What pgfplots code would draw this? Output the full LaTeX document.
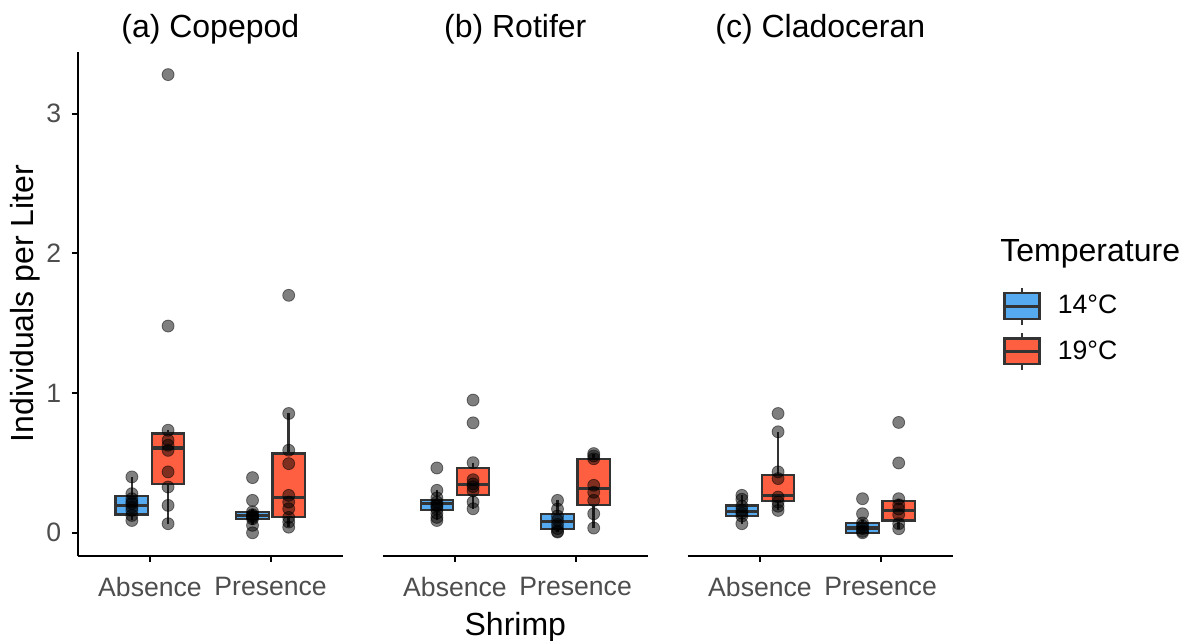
\documentclass[border=0pt]{standalone}
\usepackage{fontspec}
\setmainfont{Liberation Sans}
\usepackage{pgfplots}
\pgfplotsset{compat=1.18}
\usepgfplotslibrary{statistics}
\definecolor{c14}{RGB}{86,170,240}
\definecolor{c19}{RGB}{255,95,65}
\definecolor{boxgray}{RGB}{51,51,51}
\definecolor{tickgray}{RGB}{77,77,77}
\newcommand{\tickfont}{\fontsize{13.3}{16}\selectfont}
\newcommand{\labfont}{\fontsize{16}{19}\selectfont}
% draw position, lower whisker, lower quartile, median, upper quartile, upper whisker, colour
\newcommand{\bx}[7]{\addplot[boxplot prepared={draw direction=y, draw position=#1, lower whisker=#2, lower quartile=#3, median=#4, upper quartile=#5, upper whisker=#6, box extend=0.27, whisker extend=0, every median/.style={line width=1.7pt}, every whisker/.style={line width=1.3pt}, every box/.style={line width=1.1pt}}, draw=boxgray, fill=#7, line width=1.1pt, forget plot] coordinates {};}
\pgfplotsset{
  panel/.style={
    scale only axis, width=132.7pt, height=252pt,
    xmin=0.4, xmax=2.6, ymin=-0.164, ymax=3.444,
    xtick={1,2}, xticklabels={Absence,Presence},
    axis x line*=bottom,
    axis line style={line width=1pt, black},
    tick align=outside, major tick length=3pt,
    tick style={line width=1pt, black},
    xticklabel style={font=\tickfont, text=tickgray, anchor=center, yshift=-12.6pt},
    yticklabel style={font=\tickfont, text=tickgray, anchor=east, inner sep=0pt, xshift=-5pt},
    /pgf/number format/assume math mode=true,
    title style={font=\labfont, at={(0.5,1)}, anchor=center, yshift=5pt},
    xlabel style={font=\labfont},
    ylabel style={font=\labfont},
    clip=false,
  },
  pts/.style={only marks, mark=*, mark size=3pt, mark options={fill=black, draw=black, opacity=0.5, line width=0.4pt}, forget plot},
}
\begin{document}
\begin{tikzpicture}
\path[use as bounding box] (0pt,0pt) rectangle (590pt,-320.5pt);

% (a) Copepod
\begin{axis}[panel, at={(38.8pt,-277.85pt)}, anchor=south west,
  axis y line*=left, ytick={0,1,2,3},
  title={(a) Copepod},
  ylabel={Individuals per Liter},
  ylabel style={at={(axis description cs:-0.198,0.5)}, anchor=center}]
\bx{0.85}{0.088}{0.131}{0.196}{0.261}{0.40}{c14}
\bx{1.15}{0.065}{0.352}{0.608}{0.711}{0.734}{c19}
\bx{1.85}{0.053}{0.096}{0.124}{0.148}{0.17}{c14}
\bx{2.15}{0.04}{0.113}{0.251}{0.567}{0.854}{c19}
\addplot[pts] coordinates {(0.85,0.40)(0.85,0.28)(0.85,0.244)(0.85,0.22)(0.85,0.208)(0.85,0.184)(0.85,0.16)(0.85,0.124)(0.85,0.088)};
\addplot[pts] coordinates {(1.15,3.28)(1.15,1.48)(1.15,0.734)(1.15,0.663)(1.15,0.627)(1.15,0.59)(1.15,0.436)(1.15,0.328)(1.15,0.196)(1.15,0.065)};
\addplot[pts] coordinates {(1.85,0.395)(1.85,0.232)(1.85,0.15)(1.85,0.13)(1.85,0.12)(1.85,0.11)(1.85,0.10)(1.85,0.053)(1.85,0.0)};
\addplot[pts] coordinates {(2.15,1.70)(2.15,0.854)(2.15,0.591)(2.15,0.495)(2.15,0.268)(2.15,0.22)(2.15,0.172)(2.15,0.11)(2.15,0.077)(2.15,0.04)};
\end{axis}

% (b) Rotifer
\begin{axis}[panel, at={(191.3pt,-277.85pt)}, anchor=south west,
  axis y line=none, ytick=\empty,
  title={(b) Rotifer},
  xlabel={Shrimp},
  xlabel style={at={(axis description cs:0.5,-0.1415)}, anchor=center}]
\bx{0.85}{0.088}{0.165}{0.208}{0.237}{0.304}{c14}
\bx{1.15}{0.172}{0.268}{0.345}{0.464}{0.502}{c19}
\bx{1.85}{0.005}{0.029}{0.081}{0.136}{0.232}{c14}
\bx{2.15}{0.034}{0.201}{0.316}{0.526}{0.567}{c19}
\addplot[pts] coordinates {(0.85,0.464)(0.85,0.304)(0.85,0.25)(0.85,0.22)(0.85,0.20)(0.85,0.19)(0.85,0.17)(0.85,0.14)(0.85,0.11)(0.85,0.088)};
\addplot[pts] coordinates {(1.15,0.95)(1.15,0.787)(1.15,0.502)(1.15,0.38)(1.15,0.35)(1.15,0.33)(1.15,0.30)(1.15,0.22)(1.15,0.172)};
\addplot[pts] coordinates {(1.85,0.232)(1.85,0.17)(1.85,0.12)(1.85,0.09)(1.85,0.06)(1.85,0.03)(1.85,0.01)(1.85,0.005)};
\addplot[pts] coordinates {(2.15,0.567)(2.15,0.55)(2.15,0.53)(2.15,0.34)(2.15,0.29)(2.15,0.232)(2.15,0.136)(2.15,0.034)};
\end{axis}

% (c) Cladoceran
\begin{axis}[panel, at={(343.8pt,-277.85pt)}, anchor=south west,
  axis y line=none, ytick=\empty,
  title={(c) Cladoceran},
  legend style={at={(axis description cs:1.188,0.534)}, anchor=north west, draw=none, fill=none, inner sep=0pt, outer sep=0pt, font=\tickfont, row sep=3pt, /tikz/every odd column/.append style={column sep=6.5pt}},
  legend cell align=left]
\addlegendimage{legend image code/.code={\draw[draw=boxgray, line width=1.1pt] (8.75pt,-9.25pt)--(8.75pt,9.25pt); \draw[draw=boxgray, fill=c14, line width=1.1pt] (0pt,-6.4pt) rectangle (17.5pt,6.4pt); \draw[boxgray, line width=1.5pt] (0pt,0pt)--(17.5pt,0pt);}}
\addlegendentry{14°C}
\addlegendimage{legend image code/.code={\draw[draw=boxgray, line width=1.1pt] (8.75pt,-9.25pt)--(8.75pt,9.25pt); \draw[draw=boxgray, fill=c19, line width=1.1pt] (0pt,-6.4pt) rectangle (17.5pt,6.4pt); \draw[boxgray, line width=1.5pt] (0pt,0pt)--(17.5pt,0pt);}}
\addlegendentry{19°C}
\bx{0.85}{0.065}{0.12}{0.153}{0.196}{0.268}{c14}
\bx{1.15}{0.16}{0.225}{0.268}{0.416}{0.723}{c19}
\bx{1.85}{0.0}{0.0}{0.034}{0.072}{0.09}{c14}
\bx{2.15}{0.029}{0.088}{0.16}{0.225}{0.244}{c19}
\addplot[pts] coordinates {(0.85,0.268)(0.85,0.24)(0.85,0.19)(0.85,0.16)(0.85,0.14)(0.85,0.12)(0.85,0.065)};
\addplot[pts] coordinates {(1.15,0.854)(1.15,0.723)(1.15,0.436)(1.15,0.388)(1.15,0.256)(1.15,0.22)(1.15,0.19)(1.15,0.16)};
\addplot[pts] coordinates {(1.85,0.244)(1.85,0.136)(1.85,0.07)(1.85,0.05)(1.85,0.03)(1.85,0.01)(1.85,0.0)};
\addplot[pts] coordinates {(2.15,0.79)(2.15,0.50)(2.15,0.244)(2.15,0.20)(2.15,0.17)(2.15,0.13)(2.15,0.065)(2.15,0.029)};
\end{axis}

\node[anchor=west, inner sep=0pt, font=\labfont] at (500pt,-127pt) {Temperature};
\end{tikzpicture}
\end{document}
